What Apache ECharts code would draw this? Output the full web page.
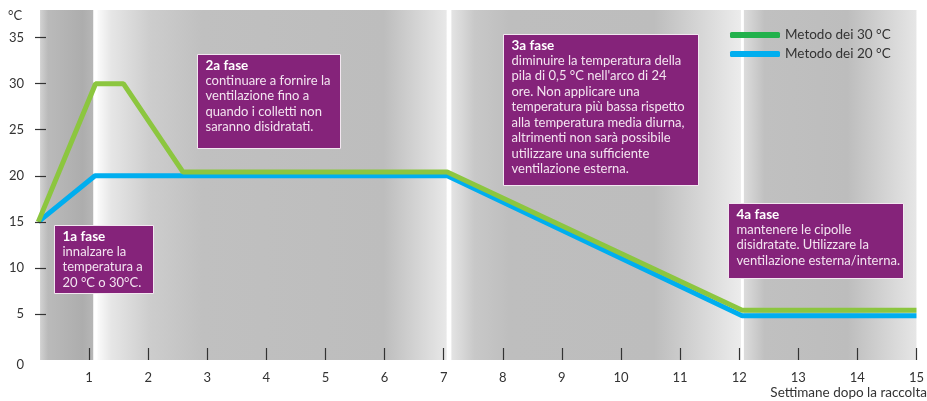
<!DOCTYPE html>
<html>
<head>
<meta charset="utf-8">
<script src="https://cdn.jsdelivr.net/npm/echarts@6/dist/echarts.min.js"></script>
<style>
  html, body { margin: 0; padding: 0; background: #fff; }
  #chart { width: 927px; height: 401px; }
</style>
</head>
<body>
<div id="chart"></div>
<script>
// settimane (etichette asse x) e tacche asse y
const weeks = [1, 2, 3, 4, 5, 6, 7, 8, 9, 10, 11, 12, 13, 14, 15]
const yTicks = [0, 5, 10, 15, 20, 25, 30, 35]

// Metodo dei 30 °C
const m30Weeks = [0.14, 1.11, 1.58, 2.59, 7.06, 12.05, 15]
const m30Temp = [15, 30, 30, 20.4, 20.4, 5.4, 5.4]

// Metodo dei 20 °C
const m20Weeks = [0.14, 1.1, 7.06, 12.05, 15]
const m20Temp = [15, 20, 20, 4.8, 4.8]

// fasce di sfondo (inizio/fine in settimane)
const bandStart = [0.17, 1.14, 7.13, 12.08]
const bandEnd = [1.07, 7.05, 12.03, 15]

const FONT = 'Lato, "Open Sans", sans-serif'

const grad = (stops) => new echarts.graphic.LinearGradient(0, 0, 1, 0,
  stops.map(([offset, color]) => ({ offset, color })))

const bandColors = [
  grad([[0, '#d2d2d2'], [0.15, '#bababa'], [0.8, '#adadad'], [1, '#b6b6b6']]),
  grad([[0, '#fbfbfb'], [0.04, '#e6e6e6'], [0.15, '#cdcdcd'], [0.3, '#c0c0c0'], [0.82, '#bdbdbd'], [1, '#e8e8e8']]),
  grad([[0, '#e4e4e4'], [0.08, '#c8c8c8'], [0.2, '#bebebe'], [0.7, '#bdbdbd'], [1, '#ececec']]),
  grad([[0, '#dcdcdc'], [0.12, '#c0c0c0'], [0.6, '#bdbdbd'], [1, '#e6e6e6']])
]

const toPairs = (xs, ys) => xs.map((x, i) => [x, ys[i]])

const box = (x, y, w, h, title, lines) => ({
  type: 'group',
  left: x,
  top: y,
  children: [
    {
      type: 'rect',
      z: 100,
      shape: { x: 0, y: 0, width: w, height: h },
      style: { fill: '#85237a', stroke: '#f2e6f0', lineWidth: 1 }
    },
    {
      type: 'text',
      z: 101,
      x: 8,
      y: 3,
      style: {
        text: '{t|' + title + '}\n' + lines.map(l => '{b|' + l + '}').join('\n'),
        rich: {
          t: { fontFamily: FONT, fontSize: 13.5, fontWeight: 'bold', fill: '#ffffff', lineHeight: 15.5 },
          b: { fontFamily: FONT, fontSize: 13, fill: '#f3e4f0', lineHeight: 15.5 }
        }
      }
    }
  ]
})

const chart = echarts.init(document.getElementById('chart'))

chart.setOption({
  animation: false,
  title: [
    { text: '°C', left: 8, top: 9, padding: 0, textStyle: { fontFamily: FONT, fontSize: 13, fontWeight: 'normal', color: '#333' } },
    { text: 'Settimane dopo la raccolta', right: 0, bottom: 1, padding: 0, textStyle: { fontFamily: FONT, fontSize: 13.5, fontWeight: 'normal', color: '#333' } }
  ],
  grid: { left: 30, right: 9, top: 10, bottom: 41 },
  legend: {
    orient: 'vertical',
    left: 725,
    top: 23,
    itemGap: 5,
    itemWidth: 50,
    itemHeight: 6,
    icon: 'roundRect',
    textStyle: { fontFamily: FONT, fontSize: 13.5, color: '#333' },
    data: [
      { name: 'Metodo dei 30 °C', itemStyle: { color: '#22b14c' } },
      { name: 'Metodo dei 20 °C', itemStyle: { color: '#00aeef' } }
    ]
  },
  xAxis: {
    type: 'value',
    min: 0,
    max: 15,
    interval: 1,
    offset: 5,
    z: 10,
    axisLine: { show: false },
    splitLine: { show: false },
    axisTick: { show: true, inside: true, length: 12, customValues: weeks, lineStyle: { color: '#333', width: 1.2 } },
    axisLabel: { customValues: weeks, margin: 6, fontFamily: FONT, fontSize: 13, color: '#333' }
  },
  yAxis: {
    type: 'value',
    min: 0,
    max: 38,
    interval: 5,
    offset: -5,
    z: 10,
    axisLine: { show: false },
    splitLine: { show: false },
    axisTick: { show: true, inside: true, length: 11, customValues: yTicks.slice(1), lineStyle: { color: '#333', width: 1.2 } },
    axisLabel: {
      customValues: yTicks,
      margin: 11,
      fontFamily: FONT,
      fontSize: 13,
      color: '#333',
      formatter: (v) => (v === 0 ? '{z|0}' : String(v)),
      rich: { z: { fontFamily: FONT, fontSize: 13, color: '#333', padding: [10, 0, 0, 0] } }
    }
  },
  series: [
    {
      // solo sfondo a fasce
      name: 'sfondo',
      type: 'line',
      data: [],
      z: 0,
      silent: true,
      markArea: {
        silent: true,
        z: 0,
        data: bandStart.map((s, i) => [
          { xAxis: s, itemStyle: { color: bandColors[i] } },
          { xAxis: bandEnd[i] }
        ])
      }
    },
    {
      name: 'Metodo dei 30 °C',
      type: 'line',
      data: toPairs(m30Weeks, m30Temp),
      showSymbol: false,
      symbol: 'none',
      z: 3,
      lineStyle: { color: '#8cc63f', width: 5 },
      itemStyle: { color: '#8cc63f' }
    },
    {
      name: 'Metodo dei 20 °C',
      type: 'line',
      data: toPairs(m20Weeks, m20Temp),
      showSymbol: false,
      symbol: 'none',
      z: 2,
      lineStyle: { color: '#00aeef', width: 5 },
      itemStyle: { color: '#00aeef' }
    }
  ],
  graphic: [
    box(54, 225, 99, 68, '1a fase', ['innalzare la', 'temperatura a', '20 °C o 30°C.']),
    box(197, 54, 143, 94, '2a fase', ['continuare a fornire la', 'ventilazione fino a', 'quando i colletti non', 'saranno disidratati.']),
    box(503, 34, 195, 151, '3a fase', [
      'diminuire la temperatura della',
      'pila di 0,5 °C nell\'arco di 24',
      'ore. Non applicare una',
      'temperatura più bassa rispetto',
      'alla temperatura media diurna,',
      'altrimenti non sarà possibile',
      'utilizzare una sufficiente',
      'ventilazione esterna.'
    ]),
    box(728, 203, 175, 75, '4a fase', ['mantenere le cipolle', 'disidratate. Utilizzare la', 'ventilazione esterna/interna.'])
  ]
})
</script>
</body>
</html>
